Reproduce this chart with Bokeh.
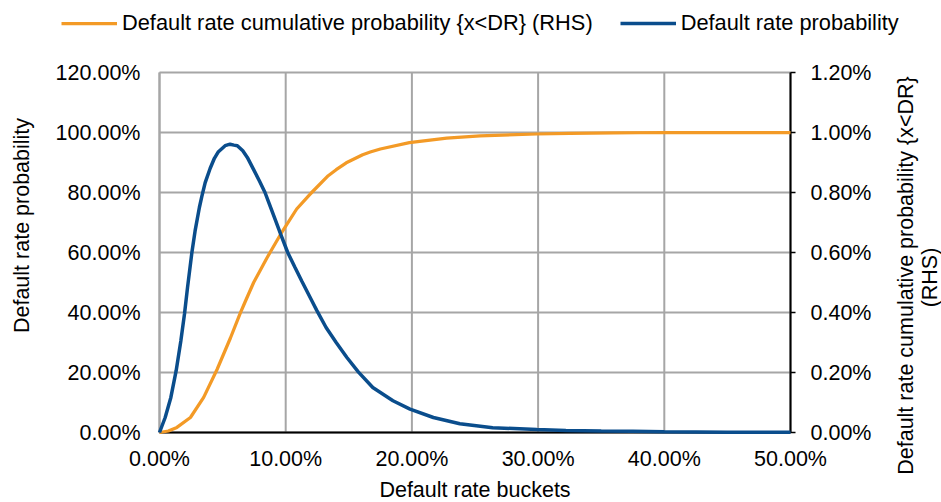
import math
from bokeh.plotting import figure
from bokeh.models import (Range1d, LinearAxis, NumeralTickFormatter, FixedTicker,
                          Legend, LegendItem, Label)
from bokeh.embed import file_html
from bokeh.resources import INLINE

# ---------------- data ----------------
# Default rate buckets (%), cumulative probability (%) - LHS scale
cum_x = [0, 0.7, 1.38, 2.45, 3.5, 4.56, 5.62, 6.4, 6.78, 7.46, 8.5, 8.76, 9.6,
         10.87, 11.92, 12.06, 13.37, 14.0, 14.8, 16.1, 16.7, 17.5, 19.8, 22.76,
         25.4, 29.9, 32.5, 36, 40, 50]
cum_y = [0, 0.5, 1.7, 5, 11.7, 21, 31.5, 39.8, 43.5, 50, 58.1, 60, 66.1,
         74.5, 79.4, 80, 85.6, 87.6, 89.9, 92.6, 93.5, 94.5, 96.6, 98.1,
         98.9, 99.5, 99.7, 99.9, 100, 100]

# Default rate buckets (%), bucket probability (%) - RHS scale
pdf_x = [0, 0.45, 0.90, 1.32, 1.69, 1.98, 2.22, 2.56, 2.82, 3.16,
         3.35, 3.62, 4.01, 4.35, 4.67, 5.2, 5.59, 5.9, 6.17, 6.6,
         6.96, 7.44, 7.91, 8.36, 8.7, 9.23, 9.6, 10.16, 10.74, 11.27,
         12.06, 12.45, 13.2, 14.0, 14.85, 15.75, 16.9, 18.5, 19.85, 21.7,
         23.8, 26.4, 29.9, 32.2, 35, 37.5, 40, 45, 50]
pdf_y = [0, 0.050, 0.117, 0.206, 0.305, 0.395, 0.483, 0.598, 0.672, 0.750,
         0.786, 0.833, 0.880, 0.914, 0.936, 0.956, 0.961, 0.958, 0.956, 0.939,
         0.917, 0.878, 0.839, 0.800, 0.762, 0.703, 0.661, 0.600, 0.550, 0.505,
         0.440, 0.408, 0.350, 0.300, 0.250, 0.202, 0.150, 0.106, 0.078, 0.050,
         0.029, 0.016, 0.010, 0.0067, 0.005, 0.004, 0.0025, 0.0012, 0.0006]

x_ticks_pct = [0, 10, 20, 30, 40, 50]
left_ticks_pct = [0, 20, 40, 60, 80, 100, 120]
right_ticks_pct = [0, 0.2, 0.4, 0.6, 0.8, 1.0, 1.2]

series_labels = ["Default rate cumulative probability {x<DR} (RHS)",
                 "Default rate probability"]
x_title = "Default rate buckets"
left_title = "Default rate probability"
right_title_1 = "Default rate cumulative probability {x<DR}"
right_title_2 = "(RHS)"

# ---------------- layout / styles ----------------
W, H = 941, 502
PL, PR, PT, PB = 159, 790, 72, 432          # plot-area pixel box
FONT = "Liberation Sans"
FS = "21.5px"
LEG_FS = "21.8px"
ORANGE = "#F39A26"
BLUE = "#0A4D8C"
GRID = "#A6A6A6"

X0, X1 = x_ticks_pct[0] / 100, x_ticks_pct[-1] / 100
Y0, Y1 = left_ticks_pct[0] / 100, left_ticks_pct[-1] / 100
R0, R1 = right_ticks_pct[0] / 100, right_ticks_pct[-1] / 100
kx = (PR - PL) / (X1 - X0)
ky = (PB - PT) / (Y1 - Y0)
kr = (PB - PT) / (R1 - R0)

p = figure(width=W, height=H,
           x_range=Range1d(X0 - PL / kx, X1 + (W - PR) / kx),
           y_range=Range1d(Y0 - (H - PB) / ky, Y1 + PT / ky),
           output_backend="svg", toolbar_location=None, min_border=0)
p.extra_y_ranges = {"rhs": Range1d(R0 - (H - PB) / kr, R1 + PT / kr)}
p.outline_line_color = None
p.background_fill_color = "white"
p.border_fill_color = "white"
p.xgrid.visible = False
p.ygrid.visible = False

xt = [v / 100 for v in x_ticks_pct]
lt = [v / 100 for v in left_ticks_pct]
rt = [v / 100 for v in right_ticks_pct]

# gridlines limited to the plot area
p.segment(x0=xt, x1=xt, y0=[Y0] * len(xt), y1=[Y1] * len(xt),
          line_color=GRID, line_width=2, level="underlay")
p.segment(x0=[X0] * len(lt), x1=[X1] * len(lt), y0=lt, y1=lt,
          line_color=GRID, line_width=2, level="underlay")


def style_axis(ax):
    ax.major_label_text_font = FONT
    ax.major_label_text_font_size = FS
    ax.major_label_text_color = "black"
    ax.minor_tick_line_color = None
    ax.minor_tick_in = 0
    ax.minor_tick_out = 0
    ax.axis_line_width = 2


# bottom axis at y = 0
xa = p.xaxis[0]
xa.fixed_location = Y0
xa.bounds = (X0, X1)
xa.ticker = FixedTicker(ticks=xt)
xa.formatter = NumeralTickFormatter(format="0.00%")
xa.axis_line_color = "black"
xa.major_tick_line_color = None
xa.major_tick_in = 0
xa.major_tick_out = 0
xa.major_label_standoff = 14
style_axis(xa)

# left axis at x = 0
ya = p.yaxis[0]
ya.fixed_location = X0
ya.bounds = (Y0, Y1)
ya.ticker = FixedTicker(ticks=lt)
ya.formatter = NumeralTickFormatter(format="0.00%")
ya.axis_line_color = GRID
ya.major_tick_line_color = None
ya.major_tick_in = 0
ya.major_tick_out = 0
ya.major_label_standoff = 19
style_axis(ya)

# right axis at x = 50%
ra = LinearAxis(y_range_name="rhs", fixed_location=X1, bounds=(R0, R1),
                ticker=FixedTicker(ticks=rt),
                formatter=NumeralTickFormatter(format="0.00%"))
ra.axis_line_color = "black"
ra.major_tick_line_color = "black"
ra.major_tick_line_width = 1.5
ra.major_tick_in = 0
ra.major_tick_out = 5
ra.major_label_standoff = 15
style_axis(ra)
p.add_layout(ra, "right")

# series
r_cum = p.line([v / 100 for v in cum_x], [v / 100 for v in cum_y],
               line_color=ORANGE, line_width=3.25, level="overlay")
r_pdf = p.line([v / 100 for v in pdf_x], [v / 100 for v in pdf_y],
               line_color=BLUE, line_width=3.5, y_range_name="rhs", level="overlay")

# legend (top, above the plot area)
legend = Legend(items=[LegendItem(label=series_labels[0], renderers=[r_cum]),
                       LegendItem(label=series_labels[1], renderers=[r_pdf])],
                orientation="horizontal", location=(61, H - 12 - 24),
                label_text_font=FONT, label_text_font_size=LEG_FS,
                label_text_color="black",
                glyph_width=56, glyph_height=20, label_standoff=5,
                spacing=27, padding=0, margin=0, label_height=20,
                border_line_alpha=0, background_fill_alpha=0)
p.add_layout(legend, "center")


def title(x, y, text, angle=0.0):
    p.add_layout(Label(x=x, y=H - y, x_units="screen", y_units="screen",
                       text=text, angle=angle, text_align="center",
                       text_baseline="middle", text_font=FONT,
                       text_font_size=FS, text_color="black"))


title(21.7, 225, left_title, math.pi / 2)
title(905, 275, right_title_1, math.pi / 2)
title(929, 277, right_title_2, math.pi / 2)
title(474.5, 489, x_title)

open("out.html", "w").write(file_html(p, INLINE))
